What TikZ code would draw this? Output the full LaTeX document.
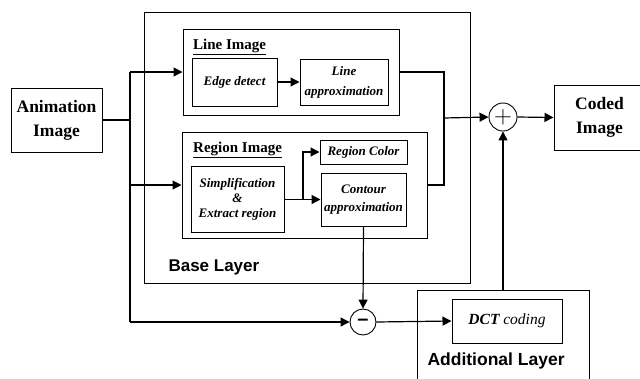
\documentclass[tikz,border=0pt]{standalone}
\usepackage{fontspec}
\setmainfont{Liberation Serif}
\setsansfont{Liberation Sans}
\usetikzlibrary{arrows.meta}
\tikzstyle{box}=[rectangle,draw=black,line width=1pt,inner sep=0pt]
\tikzstyle{procbox}=[box,align=center,
                     font=\fontsize{13}{15}\selectfont\bfseries\itshape]
\tikzstyle{sumdot}=[circle,draw=black,line width=0.9pt,fill=white,
                    inner sep=0pt,minimum size=28pt]
\tikzstyle{flow}=[line width=1.2pt,-{Triangle[length=9pt,width=9pt]}]
\tikzstyle{wire}=[line width=1.2pt]

\begin{document}
\begin{tikzpicture}[x=1pt,y=-1pt]
    \clip (0,0) rectangle (640,378);
    \newcommand{\jx}{130}
    % layers
    \node (base) at (307,147.5) [box,minimum width=326pt,minimum height=271pt]{};
    \node (baseLbl) at (165,267) [anchor=west,font=\fontsize{17}{20}\sffamily\bfseries]{Base Layer};
    \node (addl) at (503,337.5) [box,minimum width=172pt,minimum height=95pt]{};
    \node (addlLbl) at (424,365) [anchor=base west,font=\fontsize{17.5}{20}\sffamily\bfseries]{Additional Layer};
    % line image
    \node (line) at (291,72) [box,minimum width=216pt,minimum height=86pt]{};
    \node (lineLbl) at (193,49) [anchor=base west,inner sep=0pt,font=\fontsize{15}{18}\selectfont\bfseries]{\underline{Line Image}};
    \node (edge) at (234.5,82) [procbox,minimum width=85pt,minimum height=48pt]{Edge detect};
    \node (lapprox) at (344,82) [procbox,minimum width=88pt,minimum height=46pt]{Line\\[5pt]approximation};
    % region image
    \node (region) at (304.5,185) [box,minimum width=245pt,minimum height=106pt]{};
    \node (regLbl) at (193,152) [anchor=base west,inner sep=0pt,font=\fontsize{15}{18}\selectfont\bfseries]{\underline{Region Image}};
    \node (simp) at (237.5,199) [procbox,minimum width=93pt,minimum height=66pt]{Simplification\\\&\\Extract region};
    \node (rcolor) at (363.5,152) [procbox,minimum width=87pt,minimum height=24pt]{Region Color};
    \node (contour) at (363.5,199.5) [procbox,minimum width=85pt,minimum height=53pt]{Contour\\[3pt]approximation};
    % in and out
    \node (anim) at (56.5,120) [box,minimum width=91pt,minimum height=64pt,align=center,
        font=\fontsize{17.5}{24}\selectfont\bfseries]{Animation\\Image};
    \node (coded) at (599.5,117.5) [box,minimum width=91pt,minimum height=65pt,align=center,
        font=\fontsize{17.5}{24}\selectfont\bfseries]{Coded\\Image};
    \node (plus) at (503,117) [sumdot]{\fontsize{23}{23}\selectfont$+$};
    \node (minus) at (363,322) [sumdot,minimum size=26pt]{\fontsize{20}{20}\sffamily\bfseries\textendash};
    \node (dct) at (507,321) [box,minimum width=110pt,minimum height=44pt,
        font=\fontsize{15.5}{18}\selectfont\itshape]{\textbf{DCT} coding};
    % connectors
    \coordinate (split) at (\jx,120);
    \coordinate (merge) at (444,118);
    \draw[wire,line width=1.8pt] (anim.east) -- (split);
    \draw[wire] (\jx,72) -- (\jx,322);
    \draw[flow] (\jx,72) -- (line.west);
    \draw[flow] (\jx,185) -- (region.west);
    \draw[flow] (\jx,322) -- (minus.west);
    \draw[flow] (edge.east) -- (lapprox.west);
    \draw[flow] (simp.east |- contour.west) -- (contour.west);
    \draw[flow] (303,199.5) |- (rcolor.west);
    \draw[wire] (line.east) -| (merge) |- (region.east);
    \draw[flow] (merge) -- (plus.west);
    \draw[flow] (plus.east) -- (coded.west);
    \draw[flow] (addl.north -| plus) -- (plus.south);
    \draw[flow] (contour.south) -- (minus.north);
    \draw[flow] (minus.east) -- (dct.west);
\end{tikzpicture}
\end{document}
